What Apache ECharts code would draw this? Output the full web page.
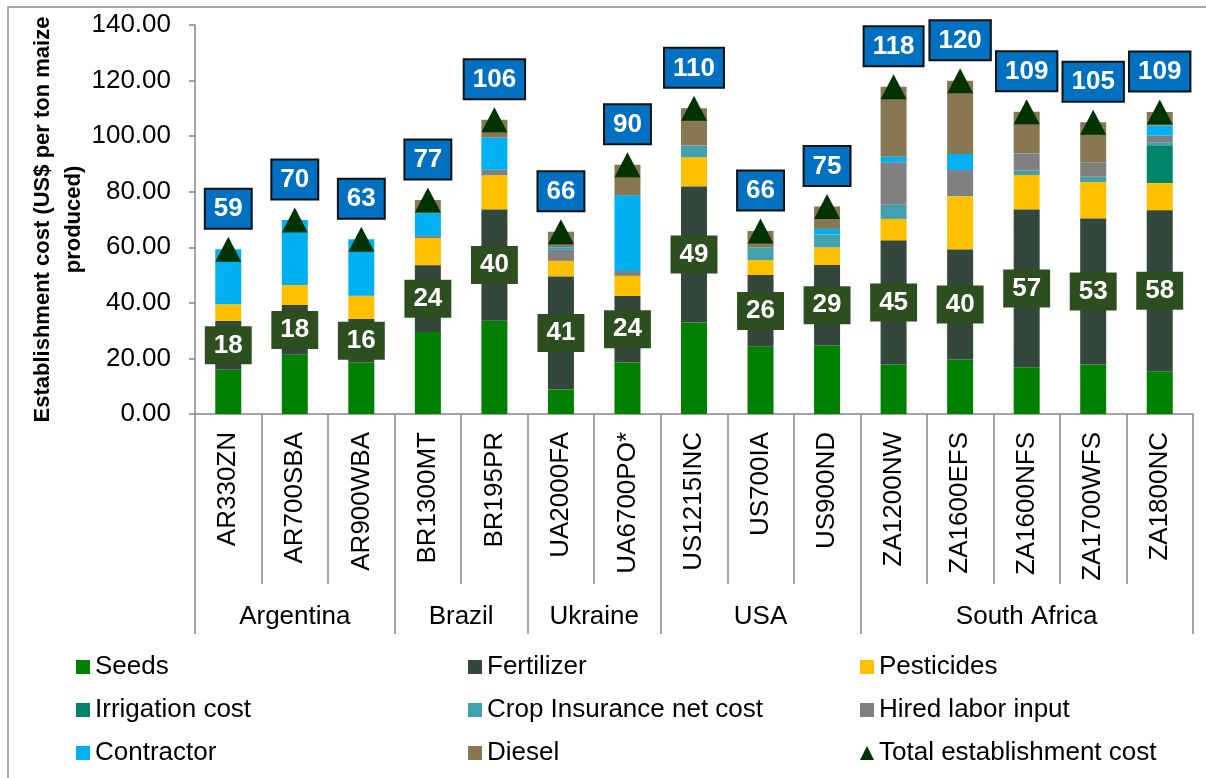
<!DOCTYPE html>
<html>
<head>
<meta charset="utf-8">
<title>Establishment cost</title>
<script src="https://cdn.jsdelivr.net/npm/echarts@6/dist/echarts.min.js"></script>
<style>
  html, body { margin: 0; padding: 0; background: #fff; }
  #chart { width: 1206px; height: 778px; }
</style>
</head>
<body>
<div id="chart"></div>
<script>
  // farms (bottom row) and the countries they belong to
  var categories = ['AR330ZN', 'AR700SBA', 'AR900WBA', 'BR1300MT', 'BR195PR', 'UA2000FA', 'UA6700PO*',
    'US1215INC', 'US700IA', 'US900ND', 'ZA1200NW', 'ZA1600EFS', 'ZA1600NFS', 'ZA1700WFS', 'ZA1800NC'];
  var countries = ['Argentina', 'Brazil', 'Ukraine', 'USA', 'South Africa'];
  var countrySizes = [3, 2, 2, 3, 5];

  // cost items, US$ per ton maize produced
  var seeds         = [15.9, 21.3, 18.6, 29.5, 33.6, 8.8, 18.5, 32.9, 24.2, 24.7, 17.8, 19.6, 16.8, 17.8, 15.4];
  var fertilizer    = [17.6, 17.9, 15.6, 24.0, 40.0, 40.7, 24.0, 49.0, 25.8, 28.9, 44.6, 39.6, 56.8, 52.6, 57.9];
  var pesticides    = [6.0, 7.2, 8.4, 9.8, 12.3, 5.6, 7.2, 10.5, 5.4, 6.4, 7.8, 19.2, 12.4, 13.1, 9.8];
  var irrigation    = [0, 0, 0, 0, 0, 0, 0, 0, 0, 0, 0, 0, 0, 0, 13.6];
  var cropInsurance = [0, 0, 0, 0, 0, 0, 0, 4.2, 4.6, 4.6, 5.1, 0, 1.6, 1.9, 1.1];
  var hiredLabor    = [0, 0, 0, 0.8, 2.0, 4.2, 1.8, 0, 0, 0, 15.3, 9.4, 6.2, 5.2, 2.4];
  var contractor    = [19.8, 23.4, 20.3, 8.2, 11.6, 0.7, 27.2, 0, 0, 2.0, 2.0, 5.8, 0, 0, 3.6];
  var diesel        = [0, 0, 0, 4.7, 6.4, 5.6, 11.0, 13.4, 5.9, 8.1, 25.2, 26.3, 15.0, 14.4, 4.9];

  var yTicks = [0, 20, 40, 60, 80, 100, 120, 140];

  var font = 'Liberation Sans, Arial, sans-serif';
  var axisGrey = '#868686';

  var items = [
    { name: 'Seeds', data: seeds, color: '#008000' },
    { name: 'Fertilizer', data: fertilizer, color: '#33473a' },
    { name: 'Pesticides', data: pesticides, color: '#ffc000' },
    { name: 'Irrigation cost', data: irrigation, color: '#00856a' },
    { name: 'Crop Insurance net cost', data: cropInsurance, color: '#41a1ae' },
    { name: 'Hired labor input', data: hiredLabor, color: '#808080' },
    { name: 'Contractor', data: contractor, color: '#00b0f0' },
    { name: 'Diesel', data: diesel, color: '#877852' }
  ];

  var totals = categories.map(function (c, i) {
    var s = 0;
    items.forEach(function (it) { s += it.data[i]; });
    return Math.round(s * 10) / 10;
  });

  // country group edges and centres on a 0..15 value axis
  var edges = [0], centres = [];
  countrySizes.forEach(function (n, i) {
    centres.push(edges[i] + n / 2);
    edges.push(edges[i] + n);
  });

  var series = items.map(function (it) {
    var s = {
      name: it.name,
      type: 'bar',
      stack: 'cost',
      barWidth: 26,
      data: it.data.map(function (v) { return v === 0 ? '-' : v; }),
      itemStyle: { color: it.color }
    };
    if (it.name === 'Fertilizer') {
      s.z = 3;
      s.label = {
        show: true,
        position: 'inside',
        formatter: function (p) { return Math.round(p.value); },
        backgroundColor: '#2d4f1f',
        padding: [6, 9, 5, 9],
        color: '#fff',
        fontFamily: font,
        fontWeight: 'bold',
        fontSize: 26,
        lineHeight: 27
      };
    }
    return s;
  });

  series.push({
    name: 'Total establishment cost',
    type: 'line',
    data: totals,
    z: 5,
    symbol: 'triangle',
    symbolSize: [26, 25],
    itemStyle: { color: '#003300' },
    lineStyle: { width: 0, opacity: 0 },
    label: {
      show: true,
      position: 'top',
      distance: 9,
      formatter: function (p) { return Math.round(p.value); },
      backgroundColor: '#0070c0',
      borderColor: '#111',
      borderWidth: 2,
      padding: [6, 8, 5, 8],
      color: '#fff',
      fontFamily: font,
      fontWeight: 'bold',
      fontSize: 26,
      lineHeight: 27
    }
  });

  function legendCol(left, names) {
    return {
      orient: 'vertical',
      left: left,
      top: 653,
      padding: 0,
      itemWidth: 14,
      itemHeight: 14,
      itemGap: 15,
      selectedMode: false,
      textStyle: { fontFamily: font, fontSize: 26, color: '#000', lineHeight: 28 },
      data: names.map(function (n) {
        return n === 'Total establishment cost' ? { name: n, icon: 'triangle' } : { name: n, icon: 'rect' };
      })
    };
  }

  var chart = echarts.init(document.getElementById('chart'));
  chart.setOption({
    animation: false,
    backgroundColor: '#fff',
    textStyle: { fontFamily: font },
    graphic: [{
      type: 'rect',
      shape: { x: 8, y: 7, width: 1400, height: 900 },
      style: { fill: 'none', stroke: '#8c8c8c', lineWidth: 1.5 },
      silent: true
    }],
    grid: { left: 195, right: 13, top: 25, bottom: 364, outerBoundsMode: 'none' },
    legend: [
      legendCol(76, ['Seeds', 'Irrigation cost', 'Contractor']),
      legendCol(468, ['Fertilizer', 'Crop Insurance net cost', 'Diesel']),
      legendCol(860, ['Pesticides', 'Hired labor input', 'Total establishment cost'])
    ],
    xAxis: [{
      type: 'category',
      data: categories,
      axisLine: { lineStyle: { color: axisGrey, width: 1.5 } },
      axisTick: { show: true, interval: 0, length: 170, lineStyle: { color: axisGrey, width: 1.5 } },
      axisLabel: { interval: 0, rotate: 90, margin: 18, fontSize: 26, color: '#000', fontFamily: font }
    }, {
      type: 'value',
      min: 0,
      max: categories.length,
      position: 'bottom',
      offset: 170,
      axisLine: { show: false },
      splitLine: { show: false },
      axisTick: { show: true, length: 50, customValues: edges, lineStyle: { color: axisGrey, width: 1.5 } },
      axisLabel: {
        customValues: centres,
        margin: 20,
        fontSize: 26,
        color: '#000',
        fontFamily: font,
        formatter: function (v) { return countries[centres.indexOf(v)]; }
      }
    }],
    yAxis: {
      type: 'value',
      min: yTicks[0],
      max: yTicks[yTicks.length - 1],
      interval: 20,
      name: 'Establishment cost (US$ per ton maize\nproduced)',
      nameLocation: 'middle',
      nameGap: 106,
      nameRotate: 90,
      nameMoveOverlap: false,
      nameTextStyle: { fontFamily: font, fontWeight: 'bold', fontSize: 22, color: '#000', lineHeight: 31 },
      axisLine: { show: true, lineStyle: { color: axisGrey, width: 1.5 } },
      axisTick: { show: true, length: 6, lineStyle: { color: axisGrey, width: 1.5 } },
      splitLine: { show: false },
      axisLabel: {
        fontSize: 26,
        color: '#000',
        fontFamily: font,
        margin: 24,
        formatter: function (v) { return v.toFixed(2); }
      }
    },
    series: series
  });
</script>
</body>
</html>
